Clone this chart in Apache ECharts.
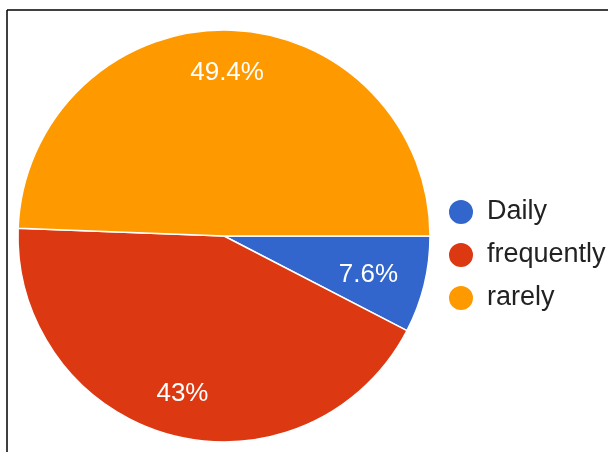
<!DOCTYPE html>
<html>
<head>
<meta charset="utf-8">
<script src="https://cdn.jsdelivr.net/npm/echarts@6/dist/echarts.min.js"></script>
<style>
html,body{margin:0;padding:0;background:#fff;}
#main{width:608px;height:452px;}
</style>
</head>
<body>
<div id="main"></div>
<script>
var categories = ['Daily', 'frequently', 'rarely'];
var values = [7.6, 43, 49.4];
var colors = ['#3366cc', '#dc3912', '#ff9900'];

var chart = echarts.init(document.getElementById('main'));

var pieData = [];
var labelData = [];
for (var i = 0; i < categories.length; i++) {
	pieData.push({ name: categories[i], value: values[i], itemStyle: { color: colors[i] } });
	var item = { name: categories[i], value: values[i] };
	// small slice label sits closer to the centre
	if (values[i] < 10) item.label = { offset: [-14, 0] };
	labelData.push(item);
}

var option = {
	backgroundColor: '#fff',
	animation: false,
	legend: {
		orient: 'vertical',
		left: 442,
		top: 193,
		icon: 'circle',
		itemWidth: 42,
		itemHeight: 26,
		itemGap: 15,
		data: categories,
		textStyle: {
			color: '#222',
			fontSize: 27,
			lineHeight: 26,
			fontFamily: 'Liberation Sans, Arial, sans-serif'
		}
	},
	graphic: [
		{ type: 'line', shape: { x1: 7, y1: 10, x2: 608, y2: 10 }, style: { stroke: '#000', lineWidth: 1.5 } },
		{ type: 'line', shape: { x1: 7, y1: 10, x2: 7, y2: 452 }, style: { stroke: '#000', lineWidth: 1.5 } }
	],
	series: [
		{
			name: 'pie',
			type: 'pie',
			center: [224, 236],
			radius: 206,
			startAngle: 0,
			clockwise: true,
			silent: true,
			label: { show: false },
			labelLine: { show: false },
			itemStyle: { borderColor: '#fff', borderWidth: 1.5 },
			data: pieData
		},
		{
			name: 'labels',
			type: 'pie',
			center: [224, 236],
			radius: [114, 206],
			startAngle: 0,
			clockwise: true,
			silent: true,
			legendHoverLink: false,
			itemStyle: { color: 'rgba(0,0,0,0)' },
			label: {
				show: true,
				position: 'inside',
				formatter: '{c}%',
				color: '#fff',
				fontSize: 26,
				fontFamily: 'Liberation Sans, Arial, sans-serif'
			},
			labelLine: { show: false },
			data: labelData
		}
	]
};

chart.setOption(option);
</script>
</body>
</html>
